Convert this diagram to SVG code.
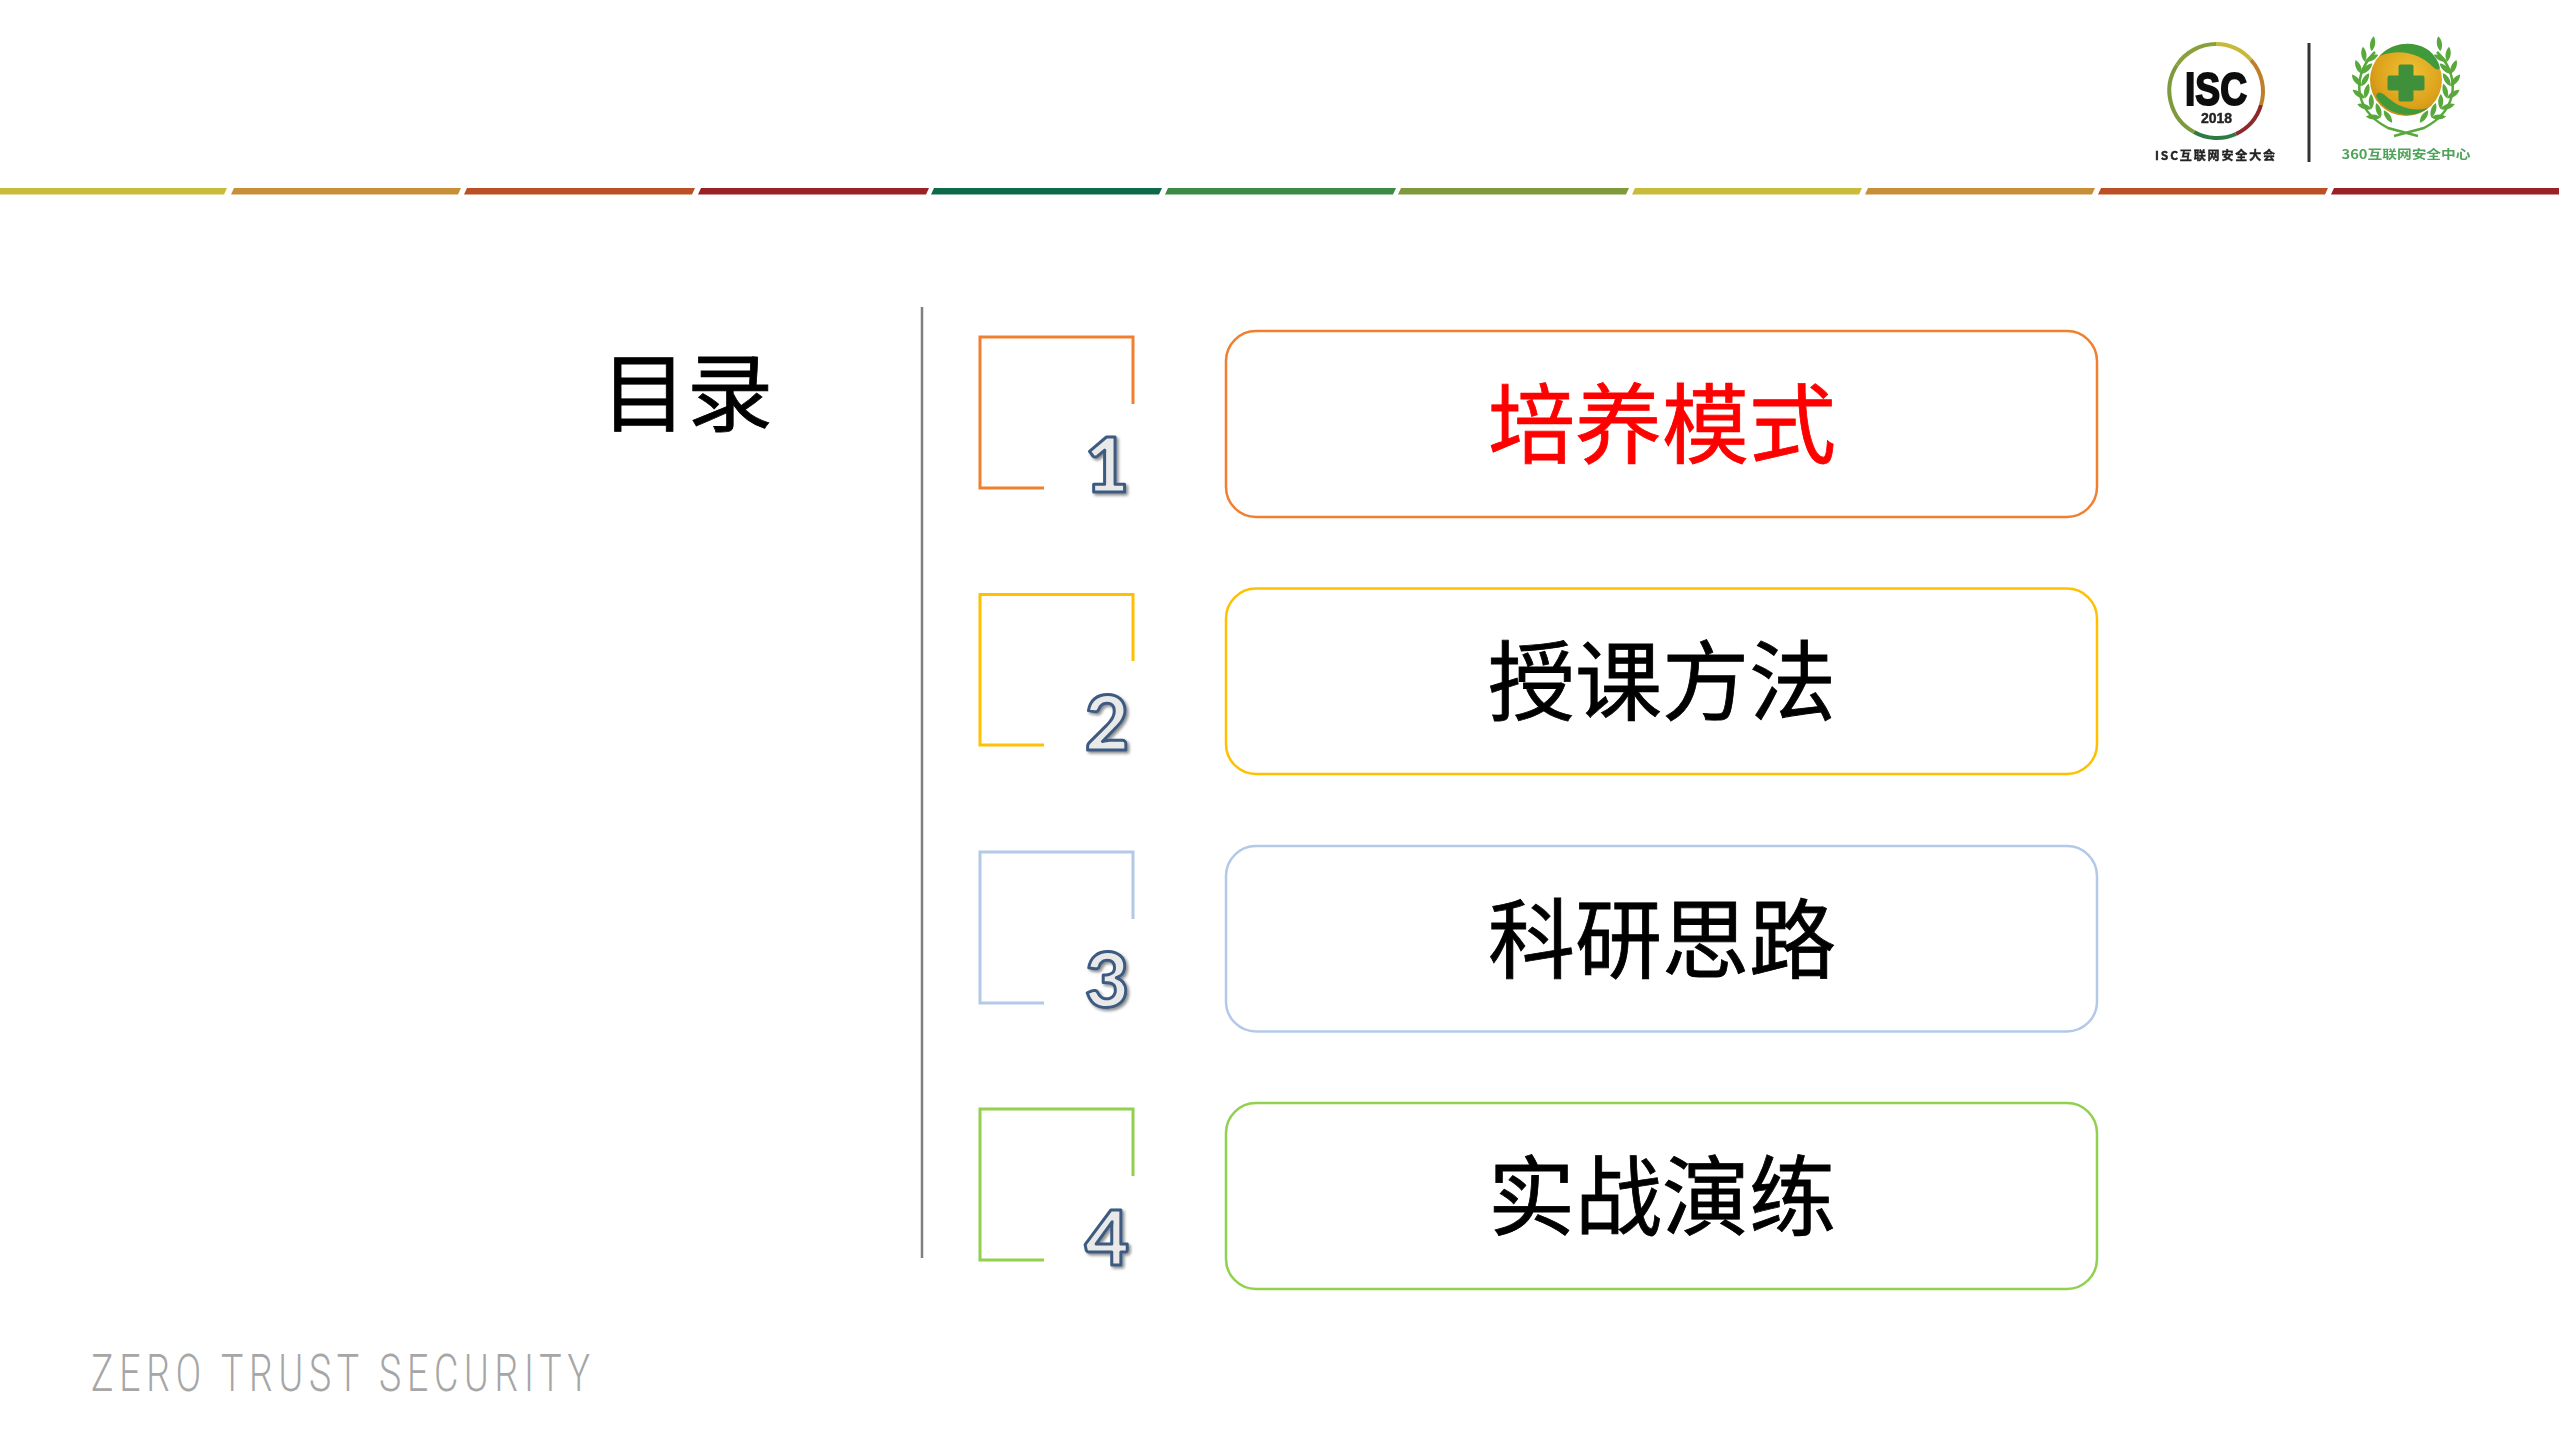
<svg xmlns="http://www.w3.org/2000/svg" width="2559" height="1439" viewBox="0 0 2559 1439">
<style>
.cjk{font-family:"Noto Sans CJK SC","Noto Sans",sans-serif}
.item{font-size:87px;text-anchor:middle;font-weight:400;stroke-width:.8}
.card{fill:#fff;stroke-width:2.5}
.br{fill:none;stroke-width:3}
.num{font-family:Lato,sans-serif;font-weight:900;font-size:76px;text-anchor:middle;fill:#e9e9e9;stroke:#3d5a80;stroke-width:3;stroke-linejoin:round;filter:url(#sh)}
.arc{fill:none;stroke-width:4}
</style>
<defs>
<filter id="sh" x="-30%" y="-30%" width="170%" height="170%"><feDropShadow dx="2" dy="2" stdDeviation="1.5" flood-color="#000" flood-opacity=".45"/></filter>
<filter id="bl" x="-5%" y="-5%" width="110%" height="110%"><feGaussianBlur stdDeviation=".6"/></filter>
<filter id="bl2" x="-5%" y="-20%" width="110%" height="140%"><feGaussianBlur stdDeviation=".5"/></filter>
<radialGradient id="ball" cx=".55" cy=".4" r=".65"><stop offset="0" stop-color="#efc234"/><stop offset=".7" stop-color="#dca21c"/><stop offset="1" stop-color="#c98a14"/></radialGradient>
<path id="leaf" d="M0 0C4 -3.500 10 -4 15 -1C11 3 4 3 0 0Z" fill="#58a83a"/>
<g id="wr">
<path d="M2437 52C2458 72 2462 108 2424 128L2394 136" fill="none" stroke="#58a83a" stroke-width="2.500"/>
<g id="leaves">
<use href="#leaf" transform="rotate(-40 2406 80) translate(2451 80) rotate(-55)"/>
<use href="#leaf" transform="rotate(-24 2406 80) translate(2451 80) rotate(-55)"/><use href="#leaf" transform="rotate(-24 2406 80) translate(2451 80) rotate(-125)"/>
<use href="#leaf" transform="rotate(-8 2406 80) translate(2451 80) rotate(-55)"/><use href="#leaf" transform="rotate(-8 2406 80) translate(2451 80) rotate(-125)"/>
<use href="#leaf" transform="rotate(8 2406 80) translate(2451 80) rotate(-55)"/><use href="#leaf" transform="rotate(8 2406 80) translate(2451 80) rotate(-125)"/>
<use href="#leaf" transform="rotate(24 2406 80) translate(2451 80) rotate(-55)"/><use href="#leaf" transform="rotate(24 2406 80) translate(2451 80) rotate(-125)"/>
<use href="#leaf" transform="rotate(40 2406 80) translate(2451 80) rotate(-55)"/><use href="#leaf" transform="rotate(40 2406 80) translate(2451 80) rotate(-125)"/>
<use href="#leaf" transform="rotate(56 2406 80) translate(2451 80) rotate(-55)"/><use href="#leaf" transform="rotate(56 2406 80) translate(2451 80) rotate(-125)"/>
<use href="#leaf" transform="rotate(72 2406 80) translate(2451 80) rotate(-125)"/>
</g>
</g>
</defs>
<rect width="2559" height="1439" fill="#fff"/>
<g id="rule" filter="url(#bl2)">
<polygon points="0,188 227,188 224,194.500 0,194.500" fill="#c9bb3a"/>
<polygon points="234,188 461,188 458,194.500 231,194.500" fill="#c88f3a"/>
<polygon points="467,188 695,188 692,194.500 464,194.500" fill="#bb4f25"/>
<polygon points="701,188 929,188 926,194.500 698,194.500" fill="#982028"/>
<polygon points="934,188 1162,188 1159,194.500 931,194.500" fill="#0f6b4a"/>
<polygon points="1168,188 1396,188 1393,194.500 1165,194.500" fill="#3a8a44"/>
<polygon points="1401,188 1629,188 1626,194.500 1398,194.500" fill="#7e9a3c"/>
<polygon points="1635,188 1862,188 1859,194.500 1632,194.500" fill="#c9bb3a"/>
<polygon points="1868,188 2095,188 2092,194.500 1865,194.500" fill="#c88f3a"/>
<polygon points="2101,188 2328,188 2325,194.500 2098,194.500" fill="#bb4f25"/>
<polygon points="2334,188 2559,188 2559,194.500 2331,194.500" fill="#982028"/>
</g>
<g id="logos" filter="url(#bl)">
<path class="arc" stroke="#8aa03c" d="M2177 65A47 47 0 0 1 2216 44"/>
<path class="arc" stroke="#c9b93a" d="M2216 44A47 47 0 0 1 2251 60"/>
<path class="arc" stroke="#bd7f2c" d="M2251 60A47 47 0 0 1 2261 105"/>
<path class="arc" stroke="#8c2b2b" d="M2261 105A47 47 0 0 1 2236 134"/>
<path class="arc" stroke="#2f7a45" d="M2236 134A47 47 0 0 1 2194 132"/>
<path class="arc" stroke="#7e9a3c" d="M2194 132A47 47 0 0 1 2177 65"/>
<text x="2216" y="105" font-family="'Liberation Sans',sans-serif" font-weight="700" font-size="46" text-anchor="middle" fill="#111" stroke="#111" stroke-width="2" textLength="62" lengthAdjust="spacingAndGlyphs">ISC</text>
<text x="2216.500" y="123" font-family="'Liberation Sans',sans-serif" font-weight="700" font-size="14" text-anchor="middle" fill="#222" stroke="#222" stroke-width=".4">2018</text>
<text x="2215" y="160" class="cjk" font-weight="700" font-size="12" text-anchor="middle" fill="#222" stroke="#222" stroke-width=".4" textLength="120">ISC互联网安全大会</text>
<line x1="2309" y1="43" x2="2309" y2="162" stroke="#333" stroke-width="3"/>
<use href="#wr"/>
<use href="#wr" transform="translate(4812 0) scale(-1 1)"/>
<circle cx="2406" cy="80" r="36" fill="url(#ball)"/>
<path d="M2380 56C2396 38 2428 40 2438 62C2442 70 2438 72 2432 66C2420 54 2400 48 2380 56Z" fill="#3f9a3a"/>
<path d="M2376 96C2378 90 2382 92 2388 98C2400 108 2414 112 2428 108C2414 120 2386 116 2376 96Z" fill="#3f9a3a"/>
<path d="M2400.500 66.500h11v11h11v11h-11v11h-11v-11h-11v-11h11Z" fill="#3f8f3a" stroke="#3f8f3a" stroke-width="4" stroke-linejoin="round"/>
<text x="2406" y="159" class="cjk" font-size="12.500" font-weight="700" text-anchor="middle" fill="#4fa35a" textLength="129" lengthAdjust="spacingAndGlyphs">360互联网安全中心</text>
</g>
<g id="title"><text x="687" y="425" class="cjk" font-size="86" font-weight="400" stroke="#000" stroke-width=".8" text-anchor="middle">目录</text></g>
<line id="divider" x1="922" y1="307" x2="922" y2="1258" stroke="#7f7f7f" stroke-width="2.500"/>
<g id="item1">
<path class="br" stroke="#f08030" d="M1044 488H980V337H1133V404"/>
<text class="num" x="1107" y="492">1</text>
<rect class="card" x="1226" y="331" width="871" height="186" rx="30" stroke="#f08030"/>
<text class="cjk item" x="1662" y="457" fill="#ff0000" stroke="#ff0000">培养模式</text>
</g>
<g id="item2">
<path class="br" stroke="#ffc000" d="M1044 745H980V594.500H1133V661"/>
<text class="num" x="1107" y="750">2</text>
<rect class="card" x="1226" y="588.500" width="871" height="185.500" rx="30" stroke="#ffc000"/>
<text class="cjk item" x="1662" y="714" fill="#000" stroke="#000">授课方法</text>
</g>
<g id="item3">
<path class="br" stroke="#b4c9e8" d="M1044 1003H980V852H1133V919"/>
<text class="num" x="1107" y="1007">3</text>
<rect class="card" x="1226" y="846" width="871" height="185.500" rx="30" stroke="#b4c9e8"/>
<text class="cjk item" x="1662" y="972" fill="#000" stroke="#000">科研思路</text>
</g>
<g id="item4">
<path class="br" stroke="#92d050" d="M1044 1260H980V1109H1133V1176"/>
<text class="num" x="1107" y="1265">4</text>
<rect class="card" x="1226" y="1103" width="871" height="186" rx="30" stroke="#92d050"/>
<text class="cjk item" x="1662" y="1229" fill="#000" stroke="#000">实战演练</text>
</g>
<g id="footer"><text transform="translate(91 1391) scale(.72 1)" font-family="Roboto,sans-serif" font-weight="300" font-size="52" fill="#a6a6a6" textLength="693" lengthAdjust="spacing">ZERO TRUST SECURITY</text></g>
</svg>
